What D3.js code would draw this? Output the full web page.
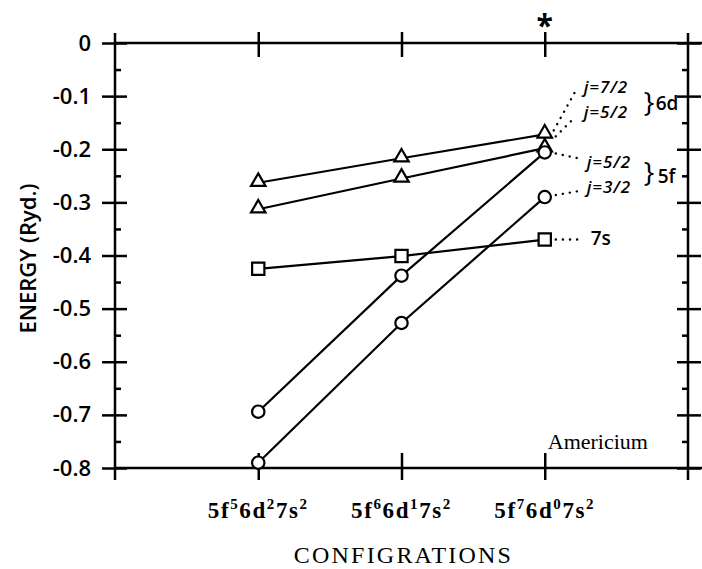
<!DOCTYPE html>
<html>
<head>
<meta charset="utf-8">
<script src="https://cdn.jsdelivr.net/npm/d3@7"></script>
<style>
  body { margin: 0; background: #fff; }
  svg { display: block; }
</style>
</head>
<body>
<svg id="chart" width="702" height="569"></svg>
<script>
// Configurations on the x axis (base, superscript pairs)
const configLabels = [
  ['5f', '5', '6d', '2', '7s', '2'],
  ['5f', '6', '6d', '1', '7s', '2'],
  ['5f', '7', '6d', '0', '7s', '2']
];
const configX = [1, 2, 3];

// Energies (Ryd.)
const d6j72 = [-0.263, -0.217, -0.172];
const d6j52 = [-0.313, -0.255, -0.198];
const s7 = [-0.425, -0.401, -0.370];
const f5j52 = [-0.694, -0.438, -0.206];
const f5j32 = [-0.790, -0.527, -0.290];

const yMajor = [0, -0.1, -0.2, -0.3, -0.4, -0.5, -0.6, -0.7, -0.8];
const yMinor = [-0.05, -0.15, -0.25, -0.35, -0.45, -0.55, -0.65, -0.75];

const svg = d3.select('#chart');
const serif = '"Liberation Serif", "DejaVu Serif", serif';
const sans = '"Open Sans", "DejaVu Sans", sans-serif';

// Scales
const x = d3.scaleLinear().domain([0, 4]).range([115, 688]);
const y = d3.scaleLinear().domain([-0.8, 0]).range([468, 43]);

// Frame lines
svg.append('line').attr('x1', x(0)).attr('x2', 702).attr('y1', y(0)).attr('y2', y(0))
  .attr('stroke', '#000').attr('stroke-width', 2.5);
svg.append('line').attr('x1', x(0)).attr('x2', 702).attr('y1', y(-0.8)).attr('y2', y(-0.8))
  .attr('stroke', '#000').attr('stroke-width', 2.5);

// Left axis with crossing major ticks
const leftAxis = svg.append('g')
  .attr('transform', `translate(${x(0)},0)`)
  .call(d3.axisLeft(y).tickValues(yMajor).tickSize(14).tickPadding(10)
    .tickFormat(d => d === 0 ? '0' : d3.format('.1f')(d).replace('−', '-')));
leftAxis.select('.domain').attr('d', `M0,${y(0) - 10}V${y(-0.8) + 12}`);
leftAxis.selectAll('.tick line').attr('x1', 12).attr('x2', -13);
leftAxis.selectAll('text').attr('font-family', sans).attr('font-size', 22).attr('font-weight', 600);
svg.append('g')
  .attr('transform', `translate(${x(0)},0)`)
  .call(d3.axisRight(y).tickValues(yMinor).tickSize(6).tickFormat(''))
  .select('.domain').remove();

// Right axis
const rightAxis = svg.append('g')
  .attr('transform', `translate(${x(4)},0)`)
  .call(d3.axisRight(y).tickValues(yMajor).tickSize(13).tickFormat(''));
rightAxis.select('.domain').attr('d', `M0,${y(0) - 10}V${y(-0.8) + 12}`);
rightAxis.selectAll('.tick line').attr('x1', -11);
svg.append('g')
  .attr('transform', `translate(${x(4)},0)`)
  .call(d3.axisLeft(y).tickValues(yMinor).tickSize(6).tickFormat(''))
  .select('.domain').remove();

// Bottom axis
const bottomAxis = svg.append('g')
  .attr('transform', `translate(0,${y(-0.8)})`)
  .call(d3.axisBottom(x).tickValues(configX).tickSize(12).tickFormat(''));
bottomAxis.select('.domain').remove();
bottomAxis.selectAll('.tick line').attr('y1', -15);

// Top axis
const topAxis = svg.append('g')
  .attr('transform', `translate(0,${y(0)})`)
  .call(d3.axisTop(x).tickValues(configX).tickSize(11).tickFormat(''));
topAxis.select('.domain').remove();
topAxis.selectAll('.tick line').attr('y1', 14);

svg.selectAll('.tick line, .domain').attr('stroke', '#000').attr('stroke-width', 2.5);

// Tick labels with superscripts
const lab = svg.append('g').selectAll('text')
  .data(configLabels)
  .join('text')
  .attr('x', (d, i) => x(configX[i]))
  .attr('y', 518)
  .attr('text-anchor', 'middle')
  .attr('font-family', serif)
  .attr('font-size', 23)
  .attr('font-weight', 'bold')
  .attr('letter-spacing', 1.6);
lab.each(function (parts) {
  const t = d3.select(this);
  parts.forEach((p, k) => {
    const sup = k % 2 === 1;
    t.append('tspan')
      .attr('dy', k === 0 ? 0 : (sup ? -9 : 9))
      .attr('font-size', sup ? 15 : 23)
      .text(p);
  });
});

// Axis titles
svg.append('text')
  .attr('transform', `translate(36,${y(-0.4) + 3}) rotate(-90)`)
  .attr('text-anchor', 'middle')
  .attr('font-family', sans).attr('font-size', 22).attr('font-weight', 600)
  .text('ENERGY (Ryd.)');

svg.append('text')
  .attr('x', x(2) + 2).attr('y', 563)
  .attr('text-anchor', 'middle')
  .attr('font-family', serif).attr('font-size', 24).attr('letter-spacing', 2.2)
  .text('CONFIGRATIONS');

svg.append('text')
  .attr('x', x(3) + 3).attr('y', y(-0.765))
  .attr('font-family', serif).attr('font-size', 22)
  .text('Americium');

svg.append('text')
  .attr('x', x(3)).attr('y', 36)
  .attr('text-anchor', 'middle')
  .attr('font-family', sans).attr('font-size', 30).attr('font-weight', 700)
  .text('*');

// Series lines and markers
const series = [
  { v: d6j72, m: 'tri' },
  { v: d6j52, m: 'tri' },
  { v: s7, m: 'sq' },
  { v: f5j52, m: 'circ' },
  { v: f5j32, m: 'circ' }
];
const line = d3.line().x((d, i) => x(configX[i])).y(d => y(d));
const sym = {
  tri: d3.symbol().type(d3.symbolTriangle).size(90),
  sq: d3.symbol().type(d3.symbolSquare).size(150),
  circ: d3.symbol().type(d3.symbolCircle).size(120)
};

series.forEach(s => {
  svg.append('path').datum(s.v)
    .attr('d', line)
    .attr('fill', 'none').attr('stroke', '#000').attr('stroke-width', 2.2);
});
series.forEach(s => {
  svg.append('g').selectAll('path')
    .data(s.v)
    .join('path')
    .attr('transform', (d, i) => `translate(${x(configX[i])},${y(d) + (s.m === 'tri' ? -1 : 0)})`)
    .attr('d', sym[s.m])
    .attr('fill', '#fff').attr('stroke', '#000').attr('stroke-width', 2.2);
});

// Annotations at the right end
const xe = x(3);
const dotted = (x1, y1, x2, y2) => svg.append('line')
  .attr('x1', x1).attr('y1', y1).attr('x2', x2).attr('y2', y2)
  .attr('stroke', '#000').attr('stroke-width', 2.4)
  .attr('stroke-dasharray', '0.1 7').attr('stroke-linecap', 'round');

dotted(xe + 9, y(d6j72[2]) - 4, xe + 30, y(-0.093));
dotted(xe + 11, y(d6j72[2]) + 2, xe + 30, y(-0.14));
dotted(xe + 11, y(f5j52[2]) + 1, xe + 36, y(-0.218));
dotted(xe + 11, y(f5j32[2]) - 2, xe + 36, y(-0.278));
dotted(xe + 11, y(s7[2]), xe + 38, y(s7[2]));

const note = (tx, ty, txt, size, italic) => svg.append('text')
  .attr('x', tx).attr('y', ty)
  .attr('font-family', sans).attr('font-size', size)
  .attr('font-weight', 600)
  .attr('font-style', italic ? 'italic' : 'normal')
  .text(txt);

note(xe + 39, y(-0.094), 'j=7/2', 17, true).attr('letter-spacing', 0.9);
note(xe + 39, y(-0.142), 'j=5/2', 17, true).attr('letter-spacing', 0.9);
note(xe + 99, y(-0.13), '}', 28, false).attr('font-weight', 400);
note(xe + 111, y(-0.126), '6d', 19, false);

note(xe + 42, y(-0.235), 'j=5/2', 17, true).attr('letter-spacing', 0.9);
note(xe + 42, y(-0.282), 'j=3/2', 17, true).attr('letter-spacing', 0.9);
note(xe + 99, y(-0.262), '}', 28, false).attr('font-weight', 400);
note(xe + 113, y(-0.263), '5f', 19, false);

note(xe + 46, y(-0.381), '7s', 19, false);
</script>
</body>
</html>
